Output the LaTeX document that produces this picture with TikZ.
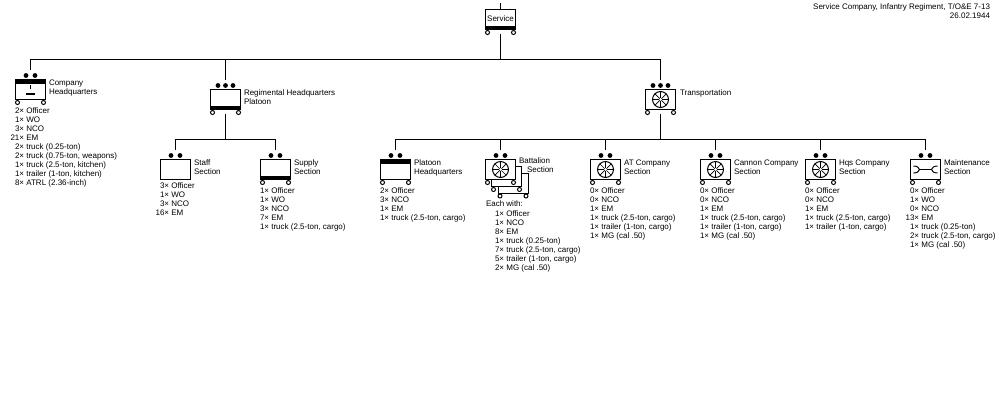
\documentclass[tikz,border=0pt]{standalone}
\usepackage{fontspec}
\setmainfont{Liberation Sans}
\usepackage{xcolor}
\usetikzlibrary{positioning,calc}

\tikzset{
    unitbox/.style={draw, fill=white, line width=1pt, minimum width=30pt, minimum height=20pt, inner sep=0pt, outer sep=0pt},
    hqtop/.style={unitbox, path picture={\fill[black] (path picture bounding box.north west) rectangle ([yshift=-4pt]path picture bounding box.north east);}},
    hqbottom/.style={unitbox, path picture={\fill[black] (path picture bounding box.south west) rectangle ([yshift=4pt]path picture bounding box.south east);}},
    wheelsym/.style={unitbox, path picture={
        \draw[line width=1pt] (path picture bounding box.center) circle (8pt);
        \foreach \ang in {0,45,...,315} \draw[line width=0.7pt] (path picture bounding box.center) -- ++(\ang:8pt);
        \fill (path picture bounding box.center) circle (1.5pt);}},
    wrenchsym/.style={unitbox, path picture={
        \draw[line width=1pt] ([xshift=-6pt]path picture bounding box.center) -- ([xshift=6pt]path picture bounding box.center);
        \draw[line width=1pt] ([shift={(-12pt,3.5pt)}]path picture bounding box.center) arc[start angle=90, end angle=-90, x radius=6pt, y radius=3.5pt];
        \draw[line width=1pt] ([shift={(12pt,3.5pt)}]path picture bounding box.center) arc[start angle=90, end angle=270, x radius=6pt, y radius=3.5pt];}},
    unittext/.style={font=\fontsize{8}{9}\selectfont, inner sep=0pt, outer sep=0pt, align=left, anchor=north west},
    drop/.style={line width=1pt, shorten >=10pt},
    link/.style={line width=1pt, shorten <=4pt}
}

\newcommand{\wheels}[1]{\foreach \sx in {-13,13} \draw[line width=1pt, fill=white] ([shift={(\sx pt,-3pt)}]#1.south) circle (2pt);}
\newcommand{\twodots}[1]{\foreach \sx in {-4.5,4.5} \fill ([shift={(\sx pt,4pt)}]#1.north) circle (2.4pt);}
\newcommand{\threedots}[1]{\foreach \sx in {-7.5,0,7.5} \fill ([shift={(\sx pt,4pt)}]#1.north) circle (2.4pt);}

\begin{document}
\begin{tikzpicture}[x=1pt,y=-1pt]
    \useasboundingbox (0,0) rectangle (1000,400);

    % Title
    \node[unittext, anchor=north east, align=right] (title) at (990,4) {Service Company, Infantry Regiment, T/O\&E 7-13\\26.02.1944};

    % Service
    \coordinate (topstub) at (500.5,3);
    \coordinate (svcbus) at (500.5,59.5);
    \node[hqbottom, font=\fontsize{8}{9}\selectfont] (service) at (500.5,19.5) {\raisebox{1.5pt}{Service}};
    \wheels{service}
    \draw[line width=1pt] (topstub) -- (service.north);
    \draw[link] (service.south) -- (svcbus);

    % Company Headquarters
    \node[hqtop] (companyhq) at (30.5,89.5) {};
    \twodots{companyhq}
    \wheels{companyhq}
    \draw[line width=1pt] (30.5,85) -- (30.5,89);
    \draw[line width=1.5pt] (26,94) -- (35,94);
    \draw[drop] (svcbus) -| (companyhq.north);
    \node[unittext] (companylbl) at (49,79.5) {Company\\Headquarters};
    \node[unittext] (companylist) at (15,107.5) {2× Officer\\1× WO\\3× NCO\\\llap{2}1× EM\\2× truck (0.25-ton)\\2× truck (0.75-ton, weapons)\\1× truck (2.5-ton, kitchen)\\1× trailer (1-ton, kitchen)\\8× ATRL (2.36-inch)};

    % Regimental Headquarters Platoon
    \coordinate (regbus) at (225.5,139.5);
    \node[hqbottom] (reghq) at (225.5,99.5) {};
    \threedots{reghq}
    \wheels{reghq}
    \draw[drop] (svcbus) -| (reghq.north);
    \draw[link] (reghq.south) -- (regbus);
    \node[unittext] (reghqlbl) at (244,89.5) {Regimental Headquarters\\Platoon};

    % Staff Section
    \node[unitbox] (staff) at (175.5,169.5) {};
    \twodots{staff}
    \draw[drop] (regbus) -| (staff.north);
    \node[unittext] (stafflbl) at (194,159.5) {Staff\\Section};
    \node[unittext] (stafflist) at (160,182.5) {3× Officer\\1× WO\\3× NCO\\\llap{1}6× EM};

    % Supply Section
    \node[hqbottom] (supply) at (275.5,169.5) {};
    \twodots{supply}
    \wheels{supply}
    \draw[drop] (regbus) -| (supply.north);
    \node[unittext] (supplylbl) at (294,159.5) {Supply\\Section};
    \node[unittext] (supplylist) at (260,187.5) {1× Officer\\1× WO\\3× NCO\\7× EM\\1× truck (2.5-ton, cargo)};

    % Transportation
    \coordinate (trnbus) at (660.5,139.5);
    \node[wheelsym] (transport) at (660.5,99.5) {};
    \threedots{transport}
    \wheels{transport}
    \draw[drop] (svcbus) -| (transport.north);
    \draw[link] (transport.south) -- (trnbus);
    \node[unittext] (transportlbl) at (680,89.5) {Transportation};

    % Platoon Headquarters
    \node[hqtop] (platoonhq) at (395.5,169.5) {};
    \twodots{platoonhq}
    \wheels{platoonhq}
    \draw[drop] (trnbus) -| (platoonhq.north);
    \node[unittext] (platoonlbl) at (414,159.5) {Platoon\\Headquarters};
    \node[unittext] (platoonlist) at (380,187.5) {2× Officer\\3× NCO\\1× EM\\1× truck (2.5-ton, cargo)};

    % Battalion Section (three of them)
    \node[unitbox] (battalionc) at (513,183) {};
    \wheels{battalionc}
    \node[unitbox] (battalionb) at (506.5,176.5) {};
    \wheels{battalionb}
    \node[wheelsym] (battalion) at (500.5,169.5) {};
    \twodots{battalion}
    \wheels{battalion}
    \draw[drop] (trnbus) -| (battalion.north);
    \node[unittext] (battalionlbl) at (519,157.5) {Battalion\\\hspace*{8pt}Section};
    \node[unittext] (battalioneach) at (486,200.5) {Each with:};
    \node[unittext] (battalionlist) at (495,210.5) {1× Officer\\1× NCO\\8× EM\\1× truck (0.25-ton)\\7× truck (2.5-ton, cargo)\\5× trailer (1-ton, cargo)\\2× MG (cal .50)};

    % AT Company Section
    \node[wheelsym] (atco) at (605.5,169.5) {};
    \twodots{atco}
    \wheels{atco}
    \draw[drop] (trnbus) -| (atco.north);
    \node[unittext] (atcolbl) at (624,159.5) {AT Company\\Section};
    \node[unittext] (atcolist) at (590,187.5) {0× Officer\\0× NCO\\1× EM\\1× truck (2.5-ton, cargo)\\1× trailer (1-ton, cargo)\\1× MG (cal .50)};

    % Cannon Company Section
    \node[wheelsym] (cannon) at (715.5,169.5) {};
    \twodots{cannon}
    \wheels{cannon}
    \draw[drop] (trnbus) -| (cannon.north);
    \node[unittext] (cannonlbl) at (734,159.5) {Cannon Company\\Section};
    \node[unittext] (cannonlist) at (700,187.5) {0× Officer\\0× NCO\\1× EM\\1× truck (2.5-ton, cargo)\\1× trailer (1-ton, cargo)\\1× MG (cal .50)};

    % Hqs Company Section
    \node[wheelsym] (hqsco) at (820.5,169.5) {};
    \twodots{hqsco}
    \wheels{hqsco}
    \draw[drop] (trnbus) -| (hqsco.north);
    \node[unittext] (hqscolbl) at (839,160) {Hqs Company\\Section};
    \node[unittext] (hqscolist) at (805,187.5) {0× Officer\\0× NCO\\1× EM\\1× truck (2.5-ton, cargo)\\1× trailer (1-ton, cargo)};

    % Maintenance Section
    \node[wrenchsym] (maint) at (925.5,169.5) {};
    \twodots{maint}
    \wheels{maint}
    \draw[drop] (trnbus) -| (maint.north);
    \node[unittext] (maintlbl) at (944,159.5) {Maintenance\\Section};
    \node[unittext] (maintlist) at (910,187.5) {0× Officer\\1× WO\\0× NCO\\\llap{1}3× EM\\1× truck (0.25-ton)\\2× truck (2.5-ton, cargo)\\1× MG (cal .50)};
\end{tikzpicture}
\end{document}
